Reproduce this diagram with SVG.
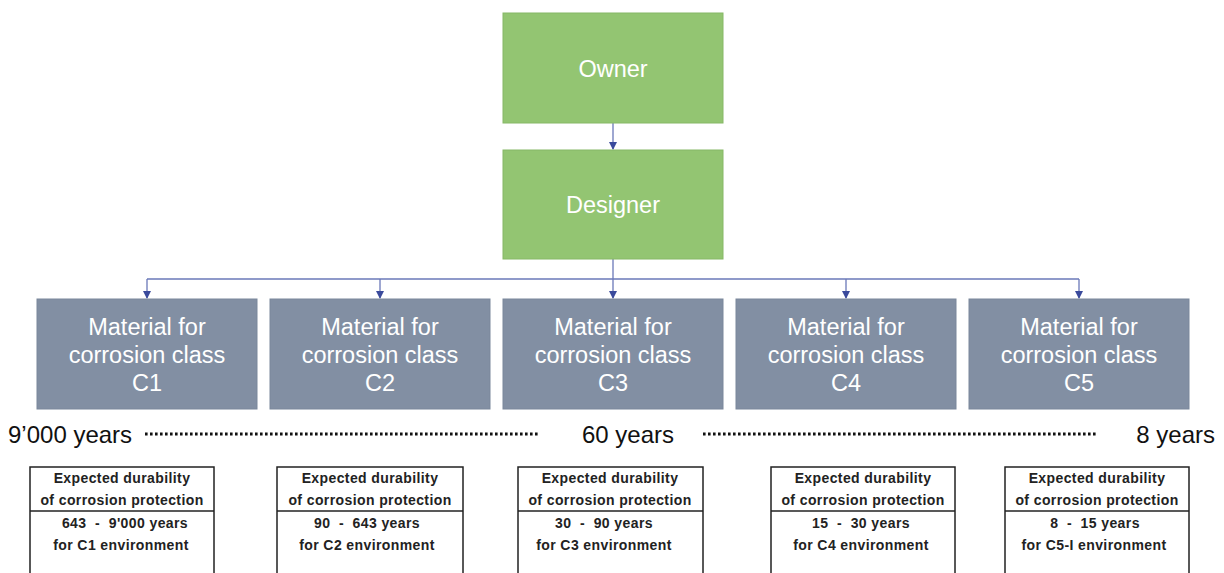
<svg xmlns="http://www.w3.org/2000/svg" width="1224" height="573" viewBox="0 0 1224 573">
  <style>
    .green { fill: #93c572; stroke: #86b866; stroke-width: 1; }
    .gray { fill: #828fa3; stroke: #7a879b; stroke-width: 1; }
    .big { font-family: "Liberation Sans", Arial, sans-serif; font-size: 23.5px; fill: #ffffff; text-anchor: middle; }
    .scale { font-family: "Liberation Sans", Arial, sans-serif; font-size: 24px; fill: #111111; }
    .card { fill: #ffffff; stroke: #222222; stroke-width: 1.5; }
    .small { font-family: "Liberation Sans", Arial, sans-serif; font-size: 14px; letter-spacing: 0.4px; font-weight: bold; fill: #222222; text-anchor: middle; }
    .wire { fill: none; stroke: #6a78b8; stroke-width: 1.3; }
    .dots { fill: none; stroke: #111111; stroke-width: 2.8; stroke-dasharray: 2.6 2.4; }
  </style>
  <defs>
    <marker id="tip" markerWidth="8" markerHeight="8" refX="7" refY="4" orient="auto" markerUnits="userSpaceOnUse">
      <path d="M0,0 L8,4 L0,8 Z" fill="#3a4a9c"/>
    </marker>
  </defs>
  <rect width="1224" height="573" fill="#ffffff"/>

  <g id="connectors">
    <line class="wire" x1="613" y1="123" x2="613" y2="149" marker-end="url(#tip)"/>
    <line class="wire" x1="613" y1="259" x2="613" y2="298" marker-end="url(#tip)"/>
    <line class="wire" x1="147" y1="279" x2="1079" y2="279"/>
    <line class="wire" x1="147" y1="279" x2="147" y2="298" marker-end="url(#tip)"/>
    <line class="wire" x1="380" y1="279" x2="380" y2="298" marker-end="url(#tip)"/>
    <line class="wire" x1="846" y1="279" x2="846" y2="298" marker-end="url(#tip)"/>
    <line class="wire" x1="1079" y1="279" x2="1079" y2="298" marker-end="url(#tip)"/>
  </g>

  <g id="owner">
    <rect class="green" x="503" y="13" width="220" height="110"/>
    <text class="big" x="613" y="77">Owner</text>
  </g>
  <g id="designer">
    <rect class="green" x="503" y="150" width="220" height="109"/>
    <text class="big" x="613" y="213">Designer</text>
  </g>

  <g id="material-c1">
    <rect class="gray" x="37" y="299" width="220" height="110"/>
    <text class="big" x="147" y="335">Material for</text>
    <text class="big" x="147" y="363">corrosion class</text>
    <text class="big" x="147" y="391">C1</text>
  </g>
  <g id="material-c2">
    <rect class="gray" x="270" y="299" width="220" height="110"/>
    <text class="big" x="380" y="335">Material for</text>
    <text class="big" x="380" y="363">corrosion class</text>
    <text class="big" x="380" y="391">C2</text>
  </g>
  <g id="material-c3">
    <rect class="gray" x="503" y="299" width="220" height="110"/>
    <text class="big" x="613" y="335">Material for</text>
    <text class="big" x="613" y="363">corrosion class</text>
    <text class="big" x="613" y="391">C3</text>
  </g>
  <g id="material-c4">
    <rect class="gray" x="736" y="299" width="220" height="110"/>
    <text class="big" x="846" y="335">Material for</text>
    <text class="big" x="846" y="363">corrosion class</text>
    <text class="big" x="846" y="391">C4</text>
  </g>
  <g id="material-c5">
    <rect class="gray" x="969" y="299" width="220" height="110"/>
    <text class="big" x="1079" y="335">Material for</text>
    <text class="big" x="1079" y="363">corrosion class</text>
    <text class="big" x="1079" y="391">C5</text>
  </g>

  <g id="durability-scale">
    <text class="scale" x="8" y="443">9’000 years</text>
    <line class="dots" x1="145" y1="434" x2="538" y2="434"/>
    <text class="scale" x="628" y="443" text-anchor="middle">60 years</text>
    <line class="dots" x1="703" y1="434" x2="1098" y2="434"/>
    <text class="scale" x="1215" y="443" text-anchor="end">8 years</text>
  </g>

  <g id="card-c1">
    <rect class="card" x="30" y="467" width="184" height="120"/>
    <line class="card" x1="30" y1="511" x2="214" y2="511"/>
    <text class="small" x="122" y="483">Expected durability</text>
    <text class="small" x="122" y="505">of corrosion protection</text>
    <text class="small" x="125" y="528" xml:space="preserve">643  -  9'000 years</text>
    <text class="small" x="121" y="550">for C1 environment</text>
  </g>
  <g id="card-c2">
    <rect class="card" x="277" y="467" width="186" height="120"/>
    <line class="card" x1="277" y1="511" x2="463" y2="511"/>
    <text class="small" x="370" y="483">Expected durability</text>
    <text class="small" x="370" y="505">of corrosion protection</text>
    <text class="small" x="367" y="528" xml:space="preserve">90  -  643 years</text>
    <text class="small" x="367" y="550">for C2 environment</text>
  </g>
  <g id="card-c3">
    <rect class="card" x="518" y="467" width="185" height="120"/>
    <line class="card" x1="518" y1="511" x2="703" y2="511"/>
    <text class="small" x="610" y="483">Expected durability</text>
    <text class="small" x="610" y="505">of corrosion protection</text>
    <text class="small" x="604" y="528" xml:space="preserve">30  -  90 years</text>
    <text class="small" x="604" y="550">for C3 environment</text>
  </g>
  <g id="card-c4">
    <rect class="card" x="771" y="467" width="184" height="120"/>
    <line class="card" x1="771" y1="511" x2="955" y2="511"/>
    <text class="small" x="863" y="483">Expected durability</text>
    <text class="small" x="863" y="505">of corrosion protection</text>
    <text class="small" x="861" y="528" xml:space="preserve">15  -  30 years</text>
    <text class="small" x="861" y="550">for C4 environment</text>
  </g>
  <g id="card-c5">
    <rect class="card" x="1005" y="467" width="184" height="120"/>
    <line class="card" x1="1005" y1="511" x2="1189" y2="511"/>
    <text class="small" x="1097" y="483">Expected durability</text>
    <text class="small" x="1097" y="505">of corrosion protection</text>
    <text class="small" x="1095" y="528" xml:space="preserve">8  -  15 years</text>
    <text class="small" x="1094" y="550">for C5-I environment</text>
  </g>
</svg>
